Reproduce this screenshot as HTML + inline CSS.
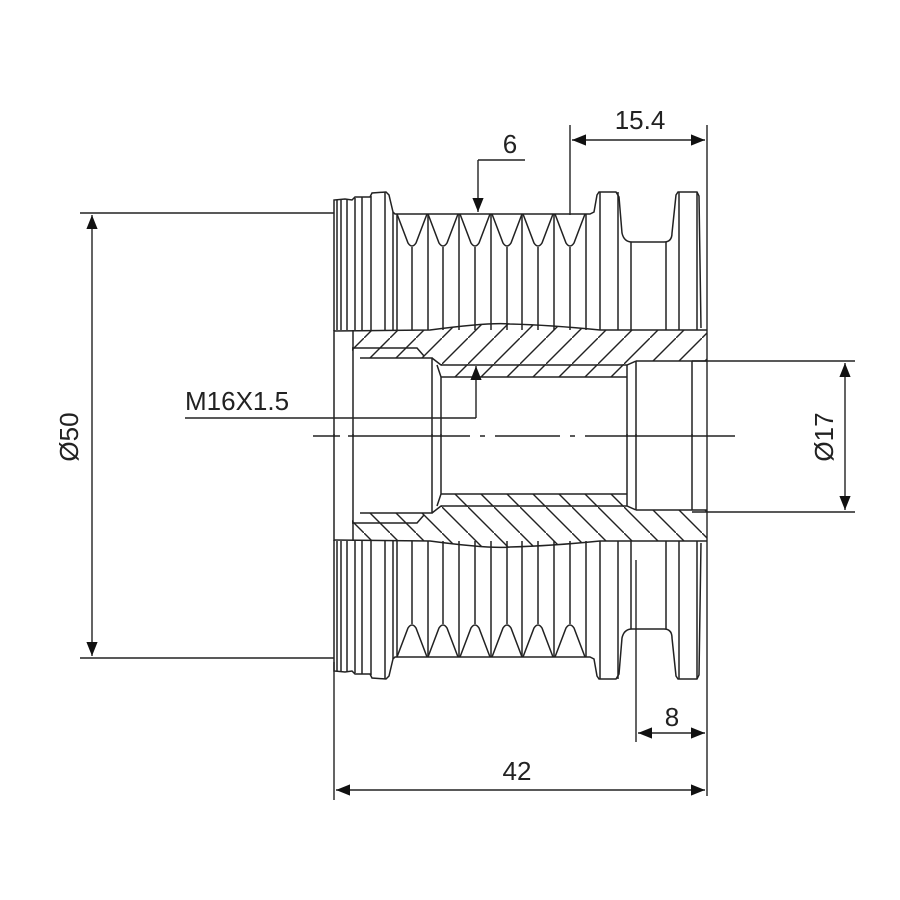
<!DOCTYPE html>
<html><head><style>html,body{margin:0;padding:0;background:#fff}svg{display:block}</style></head>
<body>
<svg width="900" height="900" viewBox="0 0 900 900" xmlns="http://www.w3.org/2000/svg">
<defs>
<pattern id="h" patternUnits="userSpaceOnUse" width="26" height="26">
<line x1="-2" y1="28" x2="28" y2="-2" stroke="#222" stroke-width="1.4"/>
</pattern>
<marker id="a" viewBox="0 0 10 10" refX="10" refY="5" markerWidth="14" markerHeight="14" markerUnits="userSpaceOnUse" orient="auto-start-reverse"><path d="M0,1 L10,5 L0,9 z" fill="#111"/></marker>
</defs>
<g id="top" fill="none" stroke="#222" stroke-width="1.5">
<path d="M352,331 L430,330 Q490,322 510,324 Q550,325 600,330 L707,330 L707,361 L636,361 L627,365 L627,377 L441,377 L441,365 L432,358 L352,358 Z" fill="url(#h)" stroke="none"/>
<path d="M334,331 L334,200 L345,199 L352,200 L355,197 L370,197 L372,193 L386,192 L389,195 L393,212 L395,214 L590,214 L594,212 L597,195 L599,192 L616,192 L619,197 L622,233 Q624,242 632,242 L664,242 Q672,242 672,233 L676,195 L678,192 L697,192 L699,196 L701,328"/>
<path d="M334,331 L430,330 Q490,322 510,324 Q550,325 600,330 L707,330"/>
<path d="M397,214 L408,243 Q412,249 416,243 L427,214 M428,214 L439,243 Q443,249 447,243 L458,214 M460,214 L471,243 Q475,249 479,243 L490,214 M492,214 L503,243 Q507,249 511,243 L522,214 M523,214 L534,243 Q538,249 542,243 L553,214 M555,214 L566,243 Q570,249 574,243 L585,214"/>
<path d="M337,200V330 M341,200V330 M347,199V330 M355,198V330 M362,197V330 M371,196V330 M385,192V330 M393,212V330 M397,214V330 M428,214V330 M459,214V330 M491,214V330 M522,214V330 M554,214V330 M586,214V330 M412,247V330 M443,247V330 M475,247V330 M507,247V330 M538,247V330 M570,247V330 M600,192V330 M618,192V330 M631,242V330 M666,242V330 M679,192V330 M697,192V330"/>
<path d="M334,330V437 M353,330V437 M352,348 L417,348 L424,356 M360,358 L432,358 L432,437 M432,358 L441,365 L627,365 L636,361 M437,365 L441,377 L627,377 L627,365 M441,377V437 M627,377V437 M636,361V437 M636,361 L707,361 M692,361V437"/>
</g>
<g transform="translate(0,871) scale(1,-1)" fill="none" stroke="#222" stroke-width="1.5">
<path d="M352,331 L430,330 Q490,322 510,324 Q550,325 600,330 L707,330 L707,361 L636,361 L627,365 L627,377 L441,377 L441,365 L432,358 L352,358 Z" fill="url(#h)" stroke="none"/>
<path d="M334,331 L334,200 L345,199 L352,200 L355,197 L370,197 L372,193 L386,192 L389,195 L393,212 L395,214 L590,214 L594,212 L597,195 L599,192 L616,192 L619,197 L622,233 Q624,242 632,242 L664,242 Q672,242 672,233 L676,195 L678,192 L697,192 L699,196 L701,328"/>
<path d="M334,331 L430,330 Q490,322 510,324 Q550,325 600,330 L707,330"/>
<path d="M397,214 L408,243 Q412,249 416,243 L427,214 M428,214 L439,243 Q443,249 447,243 L458,214 M460,214 L471,243 Q475,249 479,243 L490,214 M492,214 L503,243 Q507,249 511,243 L522,214 M523,214 L534,243 Q538,249 542,243 L553,214 M555,214 L566,243 Q570,249 574,243 L585,214"/>
<path d="M337,200V330 M341,200V330 M347,199V330 M355,198V330 M362,197V330 M371,196V330 M385,192V330 M393,212V330 M397,214V330 M428,214V330 M459,214V330 M491,214V330 M522,214V330 M554,214V330 M586,214V330 M412,247V330 M443,247V330 M475,247V330 M507,247V330 M538,247V330 M570,247V330 M600,192V330 M618,192V330 M631,242V330 M666,242V330 M679,192V330 M697,192V330"/>
<path d="M334,330V437 M353,330V437 M352,348 L417,348 L424,356 M360,358 L432,358 L432,437 M432,358 L441,365 L627,365 L636,361 M437,365 L441,377 L627,377 L627,365 M441,377V437 M627,377V437 M636,361V437 M636,361 L707,361 M692,361V437"/>
</g>
<g fill="none" stroke="#222" stroke-width="1.4">
<path d="M313,436H340 M348,436H470 M480,436H485 M495,436H560 M570,436H575 M585,436H735" />
<path d="M80,213H334 M80,658H334"/>
<line x1="92" y1="215" x2="92" y2="656" marker-start="url(#a)" marker-end="url(#a)"/>
<path d="M525,160H478"/>
<line x1="478" y1="160" x2="478" y2="212" marker-end="url(#a)"/>
<path d="M570,125V215 M707,125V796 M334,662V800 M636,560V742"/>
<line x1="572" y1="140" x2="705" y2="140" marker-start="url(#a)" marker-end="url(#a)"/>
<path d="M185,418H476"/>
<line x1="476" y1="418" x2="476" y2="366" marker-end="url(#a)"/>
<path d="M692,361H855 M692,512H855"/>
<line x1="845" y1="363" x2="845" y2="510" marker-start="url(#a)" marker-end="url(#a)"/>
<line x1="638" y1="733" x2="705" y2="733" marker-start="url(#a)" marker-end="url(#a)"/>
<line x1="336" y1="790" x2="705" y2="790" marker-start="url(#a)" marker-end="url(#a)"/>
</g>
<g font-family="Liberation Sans, Arial, sans-serif" font-size="26" fill="#222">
<text x="510" y="153" text-anchor="middle">6</text>
<text x="640" y="129" text-anchor="middle">15.4</text>
<text x="185" y="410">M16X1.5</text>
<text x="672" y="726" text-anchor="middle">8</text>
<text x="517" y="780" text-anchor="middle">42</text>
<text transform="translate(78,437) rotate(-90)" text-anchor="middle">Ø50</text>
<text transform="translate(833,437) rotate(-90)" text-anchor="middle">Ø17</text>
</g>
</svg>
</body></html>
